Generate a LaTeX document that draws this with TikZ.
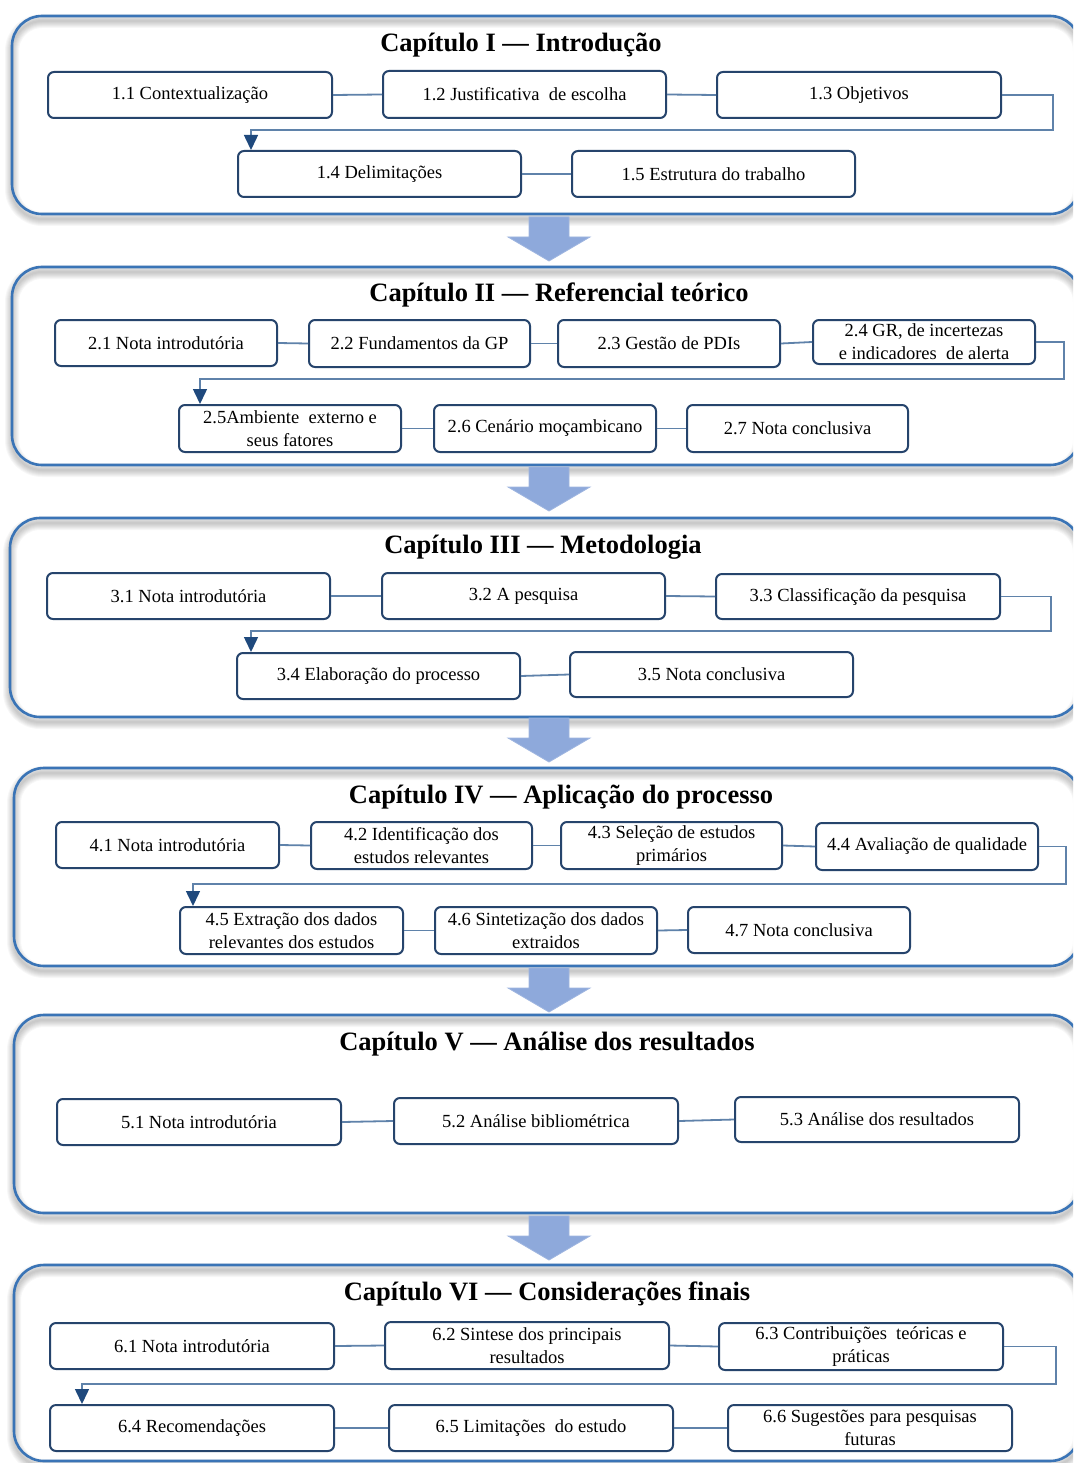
\documentclass[tikz,border=0pt]{standalone}
\usepackage{fontspec}
\setmainfont{Liberation Serif}
\usetikzlibrary{arrows.meta}

\definecolor{chapc}{RGB}{58,116,182}
\definecolor{boxc}{RGB}{38,68,108}
\definecolor{connc}{RGB}{95,130,170}
\definecolor{tipc}{RGB}{31,73,125}
\definecolor{arrc}{RGB}{142,169,219}

\tikzset{
  chapbox/.style={draw=chapc, line width=2.6pt, rounded corners=30pt, inner sep=0pt},
  sub/.style={draw=boxc, line width=2pt, rounded corners=6pt, fill=white, align=center,
    inner sep=0pt, font=\fontsize{18.5}{23}\selectfont},
  link/.style={draw=connc, line width=1.8pt},
  elb/.style={draw=connc, line width=1.5pt,
    -{Triangle[width=14pt,length=15pt,color=tipc,fill=tipc]}},
  ttl/.style={font=\fontsize{26.5}{30}\selectfont\bfseries, text=black, inner sep=0pt},
  bigarr/.style={fill=arrc, draw=arrc!85!white, line width=0.8pt},
}

% section box given by its corners (x1,y1) and (x2,y2)
\newcommand\Bx[6]{\node[sub, minimum width={#4-#2}, minimum height={#5-#3}]
  (#1) at ({(#2+#4)/2},{(#3+#5)/2}) {#6};}
% chapter frame with a soft shadow
\newcommand\Chap[5]{%
  \foreach \k in {1,...,7}{%
    \draw[rounded corners=30pt, black, opacity=0.03, line width=\k*2pt]
      ({#2},{#3+5}) rectangle ({#4},{#5+5});}
  \node[chapbox, minimum width={#4-#2}, minimum height={#5-#3}]
    (#1) at ({(#2+#4)/2},{(#3+#5)/2}) {};}
% block arrow between chapters, top at y
\newcommand\Down[1]{%
  \draw[bigarr] (529,{#1}) -- (569,{#1}) -- (569,{#1+20}) -- (590,{#1+20})
    -- (549,{#1+44}) -- (508,{#1+20}) -- (529,{#1+20}) -- cycle;}

\begin{document}
\begin{tikzpicture}[x=1pt, y=-1pt]
\useasboundingbox (0,0) rectangle (1073,1463);
\clip (0,0) rectangle (1073,1463);
\fill[white] (0,0) rectangle (1073,1463);

% ---------- Chapter I ----------
\Chap{c1}{12}{16}{1080}{214}
\node[ttl] (t1) at (521,45) {Capítulo I — Introdução};
\Bx{b11}{48}{72}{332}{118}{1.1 Contextualização}
\Bx{b12}{383}{71}{666}{118}{1.2 Justificativa\ \ de escolha}
\Bx{b13}{717}{72}{1001}{118}{1.3 Objetivos}
\Bx{b14}{238}{151}{521}{197}{1.4 Delimitações}
\Bx{b15}{572}{151}{855}{197}{1.5 Estrutura do trabalho}
\draw[link] (b11.east) -- (b12.west);
\draw[link] (b12.east) -- (b13.west);
\draw[link] (b14.east) -- (b15.west);
\draw[elb] (b13.east) -| (1053,130) -| ([xshift=14pt]b14.north west);

\Down{217}

% ---------- Chapter II ----------
\Chap{c2}{12}{267}{1080}{465}
\node[ttl] (t2) at (559,295) {Capítulo II — Referencial teórico};
\Bx{b21}{55}{320}{277}{366}{2.1 Nota introdutória}
\Bx{b22}{309}{320}{530}{367}{2.2 Fundamentos da GP}
\Bx{b23}{558}{320}{780}{367}{2.3 Gestão de PDIs}
\Bx{b24}{813}{320}{1035}{364}{2.4 GR, de incertezas\\e indicadores\ \ de alerta}
\Bx{b25}{179}{405}{401}{452}{2.5Ambiente\ \ externo e\\seus fatores}
\Bx{b26}{434}{405}{656}{452}{2.6 Cenário moçambicano}
\Bx{b27}{687}{405}{908}{452}{2.7 Nota conclusiva}
\draw[link] (b21.east) -- (b22.west);
\draw[link] (b22.east) -- (b23.west);
\draw[link] (b23.east) -- (b24.west);
\draw[link] (b25.east) -- (b26.west);
\draw[link] (b26.east) -- (b27.west);
\draw[elb] (b24.east) -| (1064,379) -| ([xshift=22pt]b25.north west);

\Down{467}

% ---------- Chapter III ----------
\Chap{c3}{10}{518}{1080}{717}
\node[ttl] (t3) at (543,547) {Capítulo III — Metodologia};
\Bx{b31}{47}{573}{330}{619}{3.1 Nota introdutória}
\Bx{b32}{382}{573}{665}{619}{3.2 A pesquisa}
\Bx{b33}{716}{574}{1000}{619}{3.3 Classificação da pesquisa}
\Bx{b34}{237}{653}{520}{699}{3.4 Elaboração do processo}
\Bx{b35}{570}{652}{853}{697}{3.5 Nota conclusiva}
\draw[link] (b31.east) -- (b32.west);
\draw[link] (b32.east) -- (b33.west);
\draw[link] (b34.east) -- (b35.west);
\draw[elb] (b33.east) -| (1051,631) -| ([xshift=15pt]b34.north west);

\Down{718}

% ---------- Chapter IV ----------
\Chap{c4}{14}{768}{1080}{966}
\node[ttl] (t4) at (561,797) {Capítulo IV — Aplicação do processo};
\Bx{b41}{56}{822}{279}{868}{4.1 Nota introdutória}
\Bx{b42}{311}{822}{532}{869}{4.2 Identificação dos\\estudos relevantes}
\Bx{b43}{561}{822}{782}{869}{4.3 Seleção de estudos\\primários}
\Bx{b44}{816}{823}{1038}{870}{4.4 Avaliação de qualidade}
\Bx{b45}{180}{907}{403}{954}{4.5 Extração dos dados\\relevantes dos estudos}
\Bx{b46}{435}{907}{657}{954}{4.6 Sintetização dos dados\\extraidos}
\Bx{b47}{688}{907}{910}{953}{4.7 Nota conclusiva}
\draw[link] (b41.east) -- (b42.west);
\draw[link] (b42.east) -- (b43.west);
\draw[link] (b43.east) -- (b44.west);
\draw[link] (b45.east) -- (b46.west);
\draw[link] (b46.east) -- (b47.west);
\draw[elb] (b44.east) -| (1066,884) -| ([xshift=14pt]b45.north west);

\Down{968}

% ---------- Chapter V ----------
\Chap{c5}{14}{1015}{1080}{1213}
\node[ttl] (t5) at (547,1044) {Capítulo V — Análise dos resultados};
\Bx{b51}{57}{1099}{341}{1145}{5.1 Nota introdutória}
\Bx{b52}{394}{1098}{678}{1144}{5.2 Análise bibliométrica}
\Bx{b53}{735}{1097}{1019}{1142}{5.3 Análise dos resultados}
\draw[link] (b51.east) -- (b52.west);
\draw[link] (b52.east) -- (b53.west);

\Down{1216}

% ---------- Chapter VI ----------
\Chap{c6}{14}{1265}{1080}{1461}
\node[ttl] (t6) at (547,1294) {Capítulo VI — Considerações finais};
\Bx{b61}{50}{1323}{334}{1369}{6.1 Nota introdutória}
\Bx{b62}{385}{1322}{669}{1369}{6.2 Sintese dos principais\\resultados}
\Bx{b63}{719}{1323}{1003}{1370}{6.3 Contribuições\ \ teóricas e\\práticas}
\Bx{b64}{50}{1405}{334}{1451}{6.4 Recomendações}
\Bx{b65}{389}{1405}{673}{1451}{6.5 Limitações\ \ do estudo}
\Bx{b66}{728}{1405}{1012}{1451}{6.6 Sugestões para pesquisas\\futuras}
\draw[link] (b61.east) -- (b62.west);
\draw[link] (b62.east) -- (b63.west);
\draw[link] (b64.east) -- (b65.west);
\draw[link] (b65.east) -- (b66.west);
\draw[elb] (b63.east) -| (1056,1384) -| ([xshift=33pt]b64.north west);
\end{tikzpicture}
\end{document}
